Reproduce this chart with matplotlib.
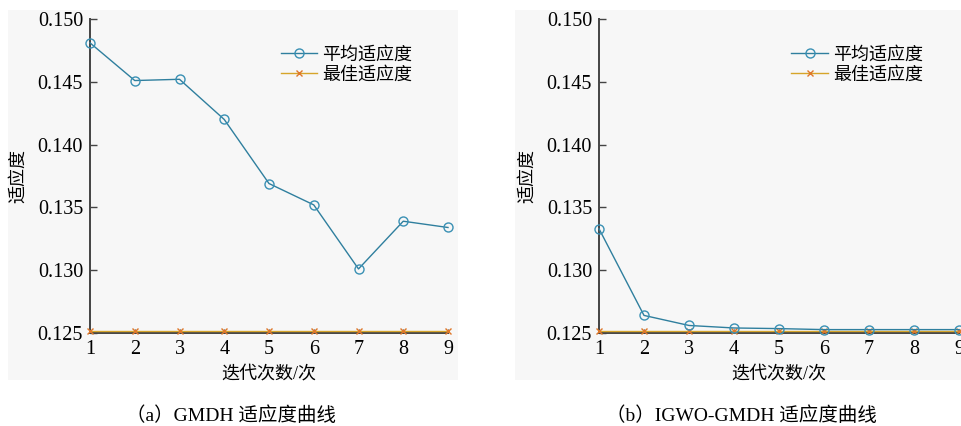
import numpy as np
import matplotlib
matplotlib.use("Agg")
import matplotlib.pyplot as plt
from matplotlib.patches import Rectangle

plt.rcParams['font.family'] = ['Liberation Serif', 'Noto Sans CJK SC', 'DejaVu Sans']

# iteration index
iters = [1, 2, 3, 4, 5, 6, 7, 8, 9]

# GMDH fitness per iteration
gmdh_mean = [0.1481, 0.1451, 0.1452, 0.1420, 0.1369, 0.1352, 0.1301, 0.1339, 0.1334]
gmdh_best = [0.12518] * 9

# IGWO-GMDH fitness per iteration
igwo_mean = [0.1333, 0.1264, 0.1256, 0.1254, 0.12535, 0.12527, 0.12527, 0.12527, 0.12527]
igwo_best = [0.12518] * 9

yticks = [0.125, 0.130, 0.135, 0.140, 0.145, 0.150]
ytick_labels = ["0.125", "0.130", "0.135", "0.140", "0.145", "0.150"]

mean_color = "#2f7f9e"
mean_marker = "#3a90b4"
best_color = "#d6a52a"
best_marker = "#e0782a"

W, H = 961, 426
fig = plt.figure(figsize=(W / 100, H / 100), dpi=100)

# light panel backgrounds
for x0, x1 in [(8, 458), (515, 961)]:
    fig.patches.append(Rectangle((x0 / W, 1 - 380 / H), (x1 - x0) / W, 370 / H,
                                 transform=fig.transFigure, facecolor="#f7f7f7",
                                 edgecolor="none", zorder=-10))


def draw_panel(ax, mean, best):
    ax.set_facecolor("none")
    ax.plot(iters, best, color=best_color, lw=1.0, marker="x", ms=5,
            mec=best_marker, mew=1.0, clip_on=False, zorder=3, label="最佳适应度")
    ax.plot(iters, mean, color=mean_color, lw=1.0, marker="o", ms=6.5,
            mfc="none", mec=mean_marker, mew=1.0, clip_on=False, zorder=4,
            label="平均适应度")
    ax.set_xlim(1, 9)
    ax.set_ylim(0.125, 0.150)
    ax.set_xticks(iters)
    ax.set_xticklabels([str(i) for i in iters], fontsize=14.5)
    ax.set_yticks(yticks)
    ax.set_yticklabels(ytick_labels, fontsize=14.5)
    ax.tick_params(axis="x", direction="in", length=3, width=1.0, pad=5,
                   color="#444444")
    ax.tick_params(axis="y", direction="in", length=5, width=1.0, pad=5,
                   color="#444444")
    for s in ["top", "right"]:
        ax.spines[s].set_visible(False)
    for s in ["left", "bottom"]:
        ax.spines[s].set_color("#444444")
        ax.spines[s].set_linewidth(1.4)
    ax.set_xlabel("迭代次数/次", fontsize=13, labelpad=5)
    ax.set_ylabel("适应度", fontsize=13, labelpad=8)
    h, l = ax.get_legend_handles_labels()
    ax.legend(h[::-1], l[::-1], loc="upper right", bbox_to_anchor=(0.92, 0.935),
              frameon=False, fontsize=13, handlelength=2.0, handletextpad=0.3,
              labelspacing=0.15, borderaxespad=0)


ax1 = fig.add_axes([90 / W, 1 - 333 / H, 358 / W, 314 / H])
draw_panel(ax1, gmdh_mean, gmdh_best)

ax2 = fig.add_axes([599 / W, 1 - 333 / H, 360 / W, 314 / H])
draw_panel(ax2, igwo_mean, igwo_best)

fig.text(231 / W, 1 - 416 / H, "（a）GMDH 适应度曲线", ha="center", va="center",
         fontsize=14)
fig.text(741 / W, 1 - 416 / H, "（b）IGWO-GMDH 适应度曲线", ha="center", va="center",
         fontsize=14)

fig.savefig("out.png", dpi=100, facecolor="white")
